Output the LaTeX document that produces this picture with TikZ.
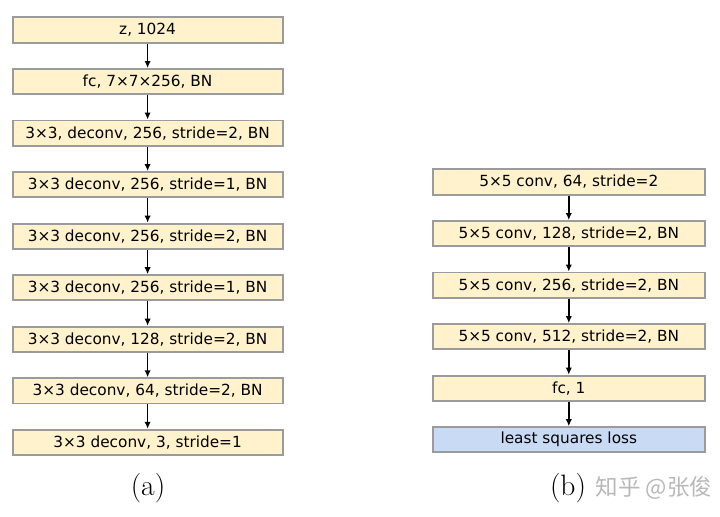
\documentclass[tikz,border=0pt]{standalone}
\usepackage{fontspec}
\newfontfamily\layerfont{DejaVu Sans}
\newfontfamily\cjk{Noto Sans CJK SC}
\usetikzlibrary{positioning,arrows.meta}
\definecolor{boxfill}{RGB}{255,242,204}
\definecolor{lossfill}{RGB}{201,218,244}
\definecolor{boxline}{RGB}{155,155,155}
\tikzset{
  layer/.style={rectangle,draw=boxline,line width=1.3pt,fill=boxfill,
    minimum width=6.75cm,minimum height=0.63cm,inner sep=0pt,
    font=\layerfont\fontsize{10.9}{12}\selectfont,node distance=0.613cm},
  loss/.style={layer,fill=lossfill},
  flow/.style={-{Latex[length=5pt,width=4.5pt]},line width=1pt},
  caption/.style={font=\fontsize{21}{24}\selectfont}
}
\begin{document}
\begin{tikzpicture}
  \useasboundingbox (0,0) rectangle (18,-12.925);
  % generator
  \node (g1) at (3.69,-0.75) [layer] {z, 1024};
  \node (g2) [layer,below=of g1] {fc, 7×7×256, BN};
  \node (g3) [layer,below=of g2] {3×3, deconv, 256, stride=2, BN};
  \node (g4) [layer,below=of g3] {3×3 deconv, 256, stride=1, BN};
  \node (g5) [layer,below=of g4] {3×3 deconv, 256, stride=2, BN};
  \node (g6) [layer,below=of g5] {3×3 deconv, 256, stride=1, BN};
  \node (g7) [layer,below=of g6] {3×3 deconv, 128, stride=2, BN};
  \node (g8) [layer,below=of g7] {3×3 deconv, 64, stride=2, BN};
  \node (g9) [layer,below=of g8] {3×3 deconv, 3, stride=1};
  \foreach \a/\b in {g1/g2,g2/g3,g3/g4,g4/g5,g5/g6,g6/g7,g7/g8,g8/g9}
    \draw [flow] (\a) -- (\b);
  % discriminator
  \node (d1) at (14.22,-4.55) [layer,minimum width=6.8cm] {5×5 conv, 64, stride=2};
  \node (d2) [layer,minimum width=6.8cm,below=of d1] {5×5 conv, 128, stride=2, BN};
  \node (d3) [layer,minimum width=6.8cm,below=of d2] {5×5 conv, 256, stride=2, BN};
  \node (d4) [layer,minimum width=6.8cm,below=of d3] {5×5 conv, 512, stride=2, BN};
  \node (d5) [layer,minimum width=6.8cm,below=of d4] {fc, 1};
  \node (d6) [loss,minimum width=6.8cm,below=of d5] {least squares loss};
  \foreach \a/\b in {d1/d2,d2/d3,d3/d4,d4/d5,d5/d6}
    \draw [flow] (\a) -- (\b);
  % captions
  \node (capa) at (3.7,-12.2) [caption] {(a)};
  \node (capb) at (14.2,-12.2) [caption] {(b)};
  \node (mark) [right=0pt of capb,text=black!28,font=\cjk\fontsize{16}{18}\selectfont] {知乎 @张俊};
\end{tikzpicture}
\end{document}
